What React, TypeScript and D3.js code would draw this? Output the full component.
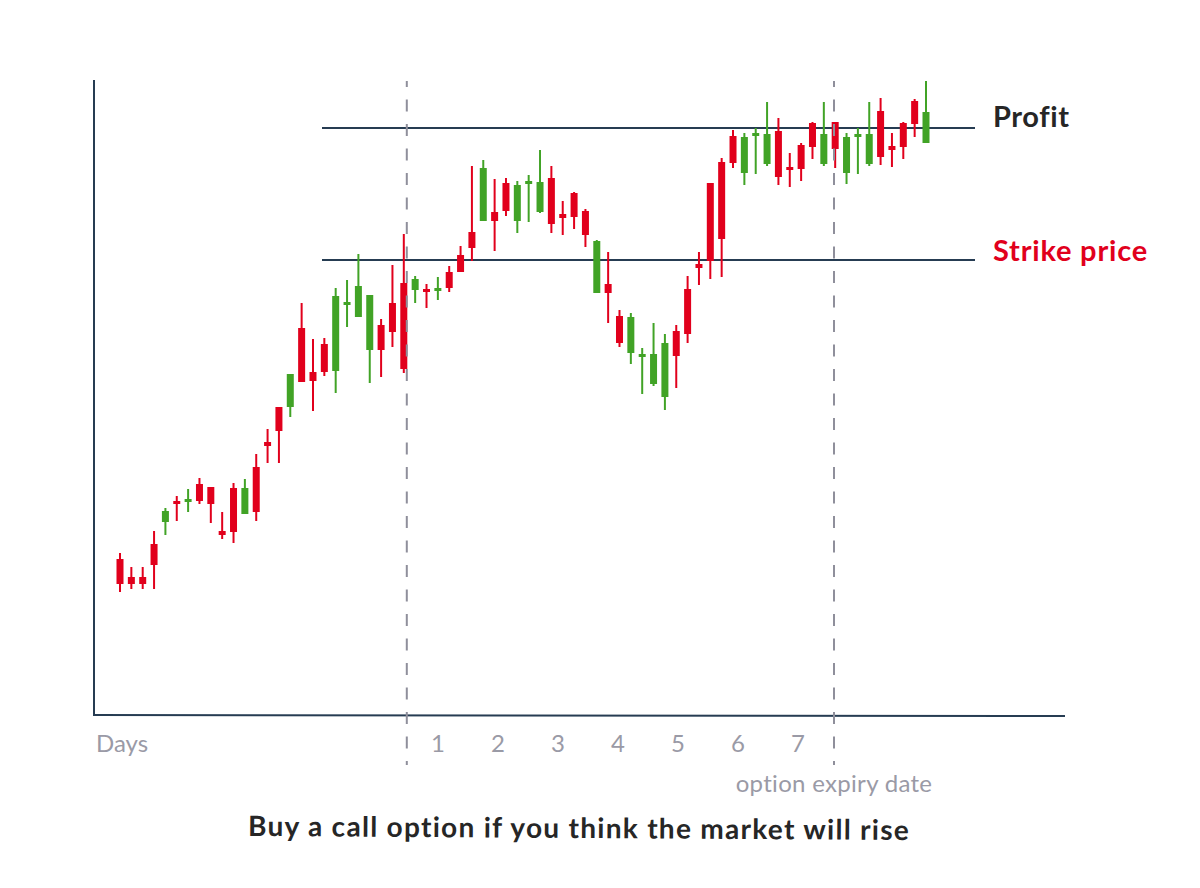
import { useRef, useEffect } from 'react';
import * as d3 from 'd3';

// candle values, one entry per trading session (price units, arbitrary)
const opens = [
  31.2, 27.6, 27.6, 34.2, 38.6, 42.8, 42.6, 46.2, 45.6, 36.8,
  45.4, 40.2, 49.6, 54.6, 61.6, 61.6, 77.4, 68.6, 74.2, 68.8,
  82.2, 79.6, 73.0, 78.0, 82.4, 86.4, 85.0, 85.2, 85.0, 88.6,
  92.0, 96.6, 98.8, 100.6, 106.4, 98.8, 106.2, 100.6, 107.4, 100.2,
  104.4, 100.8, 84.4, 86.2, 79.8, 72.4, 71.8, 66.2, 63.6, 76.8,
  85.2, 90.2, 106.4, 110.6, 115.8, 108.4, 115.8, 110.2, 116.8, 109.6,
  114.0, 118.4, 110.2, 118.6, 108.4, 115.8, 110.2, 120.8, 113.8, 118.4,
  122.8, 114.4,
];
const highs = [
  32.4, 29.6, 29.6, 36.8, 41.4, 43.8, 45.2, 47.4, 45.6, 40.6,
  46.4, 47.2, 52.2, 57.2, 61.6, 68.2, 82.4, 75.2, 75.4, 85.4,
  87.0, 92.2, 84.0, 79.2, 90.0, 96.2, 87.8, 86.2, 87.6, 89.8,
  93.8, 109.8, 111.0, 107.2, 107.4, 106.8, 108.0, 113.0, 109.8, 102.8,
  104.6, 101.2, 95.0, 92.6, 81.0, 80.4, 73.4, 78.4, 76.2, 78.0,
  87.8, 92.6, 106.4, 111.4, 117.0, 116.4, 117.4, 122.6, 119.4, 112.4,
  114.4, 118.6, 122.6, 118.6, 116.4, 117.4, 122.6, 123.4, 116.4, 118.6,
  123.2, 126.8,
];
const lows = [
  24.6, 25.2, 25.2, 25.2, 36.0, 38.8, 40.6, 42.2, 38.4, 35.2,
  34.4, 40.2, 38.8, 50.4, 50.4, 59.6, 66.6, 60.8, 67.8, 64.4,
  77.6, 79.6, 66.4, 67.6, 73.6, 68.4, 82.4, 81.4, 83.0, 84.6,
  88.6, 90.8, 98.8, 92.8, 99.8, 96.4, 98.6, 100.4, 96.4, 96.0,
  97.2, 93.6, 84.4, 78.4, 73.6, 70.2, 64.2, 65.8, 61.0, 65.4,
  74.4, 86.0, 87.2, 87.6, 109.4, 106.0, 108.2, 109.8, 106.0, 105.6,
  106.8, 111.2, 109.8, 109.4, 106.2, 108.2, 109.8, 110.0, 109.6, 111.2,
  115.6, 114.4,
];
const closes = [
  26.2, 26.2, 26.2, 30.0, 40.8, 42.2, 43.2, 42.8, 42.2, 36.0,
  36.6, 45.4, 40.6, 53.8, 56.8, 68.2, 66.6, 66.8, 68.6, 83.8,
  82.6, 85.8, 84.0, 73.0, 76.6, 69.2, 87.2, 84.6, 85.4, 85.4,
  88.6, 93.4, 109.4, 98.8, 100.8, 106.0, 106.8, 106.6, 98.2, 99.4,
  99.6, 96.0, 94.8, 84.4, 74.4, 79.6, 72.2, 72.2, 74.4, 71.8,
  76.2, 89.4, 90.8, 95.2, 110.4, 115.6, 116.4, 116.2, 107.6, 109.0,
  109.2, 113.6, 116.2, 113.2, 115.6, 116.2, 116.2, 111.6, 113.0, 113.6,
  118.2, 120.6,
];

const dayTicks = ['1', '2', '3', '4', '5', '6', '7'];
const buyDay = 0.48;
const expiryDay = 7.6;
const strikePrice = 91;
const profitPrice = 117.4;

const RED = '#e1001c';
const GREEN = '#41a326';
const NAVY = '#263c52';
const GREY = '#9a9aa6';
const FONT = 'Lato, "Open Sans", sans-serif';

export default function App() {
  const svgRef = useRef<SVGSVGElement>(null);
  const width = 1200;
  const height = 888;

  useEffect(() => {
    if (!svgRef.current) return;
    const svg = d3.select(svgRef.current);
    svg.selectAll('*').remove();

    const axisLeft = 94;
    const axisRight = 1065;
    const axisTop = 80;
    const axisBottom = 715;

    const xScale = d3.scaleLinear().domain([0, opens.length - 1]).range([120, 926]);
    const yScale = d3.scaleLinear().domain([0, 127]).range([axisBottom, axisTop]);
    const dayScale = d3.scaleLinear().domain([1, 7]).range([438, 798]);

    // Level lines
    const levels = [profitPrice, strikePrice];
    svg.selectAll('line.level')
      .data(levels)
      .enter()
      .append('line')
      .attr('class', 'level')
      .attr('x1', 322)
      .attr('x2', 975)
      .attr('y1', (d) => yScale(d))
      .attr('y2', (d) => yScale(d))
      .attr('stroke', NAVY)
      .attr('stroke-width', 2);

    // Candles
    const candles = d3.range(opens.length);
    const g = svg.append('g');
    const colorOf = (i: number) => (closes[i] > opens[i] ? GREEN : RED);

    g.selectAll('line.wick')
      .data(candles)
      .enter()
      .append('line')
      .attr('x1', (i) => xScale(i))
      .attr('x2', (i) => xScale(i))
      .attr('y1', (i) => yScale(highs[i]))
      .attr('y2', (i) => yScale(lows[i]))
      .attr('stroke', colorOf)
      .attr('stroke-width', 2);

    const bodyW = 7;
    g.selectAll('rect.body')
      .data(candles)
      .enter()
      .append('rect')
      .attr('x', (i) => xScale(i) - bodyW / 2)
      .attr('y', (i) => yScale(Math.max(opens[i], closes[i])))
      .attr('width', bodyW)
      .attr('height', (i) => Math.max(3, Math.abs(yScale(opens[i]) - yScale(closes[i]))))
      .attr('fill', colorOf);

    // Axes
    svg.append('line')
      .attr('x1', axisLeft).attr('x2', axisLeft)
      .attr('y1', axisTop).attr('y2', axisBottom)
      .attr('stroke', NAVY).attr('stroke-width', 2);
    svg.append('line')
      .attr('x1', axisLeft - 1).attr('x2', axisRight)
      .attr('y1', axisBottom).attr('y2', axisBottom + 1)
      .attr('stroke', NAVY).attr('stroke-width', 2);

    // Dashed markers: purchase and expiry
    svg.selectAll('line.marker')
      .data([buyDay, expiryDay])
      .enter()
      .append('line')
      .attr('x1', (d) => dayScale(d))
      .attr('x2', (d) => dayScale(d))
      .attr('y1', 81)
      .attr('y2', 765)
      .attr('stroke', '#8f8f9b')
      .attr('stroke-width', 2)
      .attr('stroke-dasharray', '12 12.5')
      .attr('stroke-dashoffset', 6);

    // Day ticks
    svg.selectAll('text.day')
      .data(dayTicks)
      .enter()
      .append('text')
      .attr('x', (d) => dayScale(+d))
      .attr('y', 752)
      .attr('text-anchor', 'middle')
      .attr('font-family', FONT)
      .attr('font-size', 24)
      .attr('fill', GREY)
      .text((d) => d);

    svg.append('text')
      .attr('x', 96).attr('y', 752)
      .attr('font-family', FONT).attr('font-size', 24)
      .attr('fill', GREY)
      .text('Days');

    svg.append('text')
      .attr('x', dayScale(expiryDay)).attr('y', 792)
      .attr('text-anchor', 'middle')
      .attr('font-family', FONT).attr('font-size', 24)
      .attr('letter-spacing', 0.3)
      .attr('fill', GREY)
      .text('option expiry date');

    // Level labels
    svg.append('text')
      .attr('x', 993).attr('y', yScale(profitPrice) - 1)
      .attr('font-family', FONT).attr('font-size', 29).attr('font-weight', 700)
      .attr('letter-spacing', 0.6)
      .attr('fill', '#262626')
      .text('Profit');
    svg.append('text')
      .attr('x', 993).attr('y', yScale(strikePrice) + 1)
      .attr('font-family', FONT).attr('font-size', 29).attr('font-weight', 700)
      .attr('letter-spacing', 0.8)
      .attr('fill', RED)
      .text('Strike price');

    // Title
    svg.append('text')
      .attr('x', 579).attr('y', 838)
      .attr('text-anchor', 'middle')
      .attr('transform', 'rotate(0.35 579 838)')
      .attr('font-family', FONT).attr('font-size', 28).attr('font-weight', 700)
      .attr('letter-spacing', 1.3)
      .attr('fill', '#262626')
      .text('Buy a call option if you think the market will rise');
  }, []);

  return (
    <svg
      ref={svgRef}
      width={width}
      height={height}
      style={{ position: 'absolute', left: 0, top: 0, background: '#fff' }}
    />
  );
}
